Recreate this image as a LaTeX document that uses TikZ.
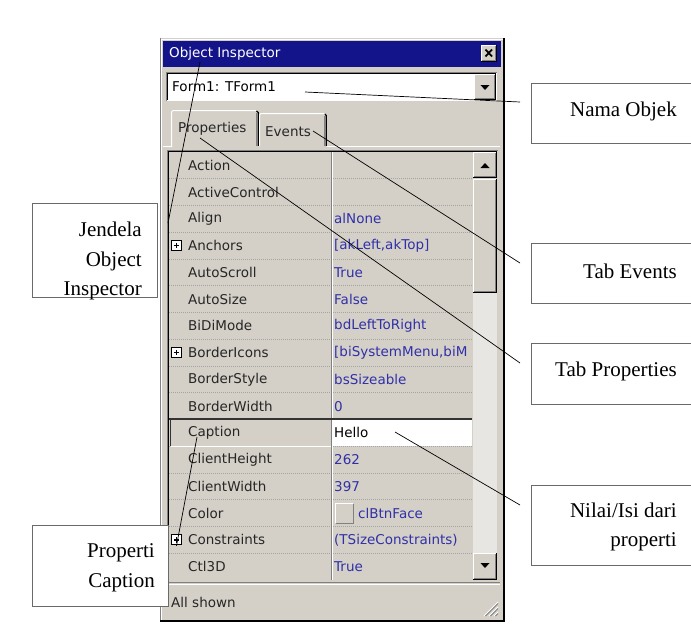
\documentclass[tikz,border=0pt]{standalone}
\usepackage{fontspec}
\setmainfont{Liberation Serif}
\newfontfamily\uifont{DejaVu Sans}
\definecolor{winface}{HTML}{D4D0C8}
\definecolor{titlebar}{HTML}{14148A}
\definecolor{valblue}{HTML}{3030A8}
\definecolor{propname}{HTML}{262626}
\definecolor{gridline}{HTML}{A4A4A4}
\definecolor{boxline}{HTML}{6A6A6A}
\definecolor{darkedge}{HTML}{808080}
\definecolor{track}{HTML}{E8E6E2}
% raised Windows-style button: x1 y1 x2 y2
\newcommand\winbtn[4]{%
  \fill[winface] (#1,#2) rectangle (#3,#4);
  \draw[white, line width=1pt] (#1+0.5,#4-1) -- (#1+0.5,#2+0.5) -- (#3-1,#2+0.5);
  \draw[darkedge, line width=1pt] (#1+1,#4-1.5) -- (#3-1.5,#4-1.5) -- (#3-1.5,#2+1);
  \draw[black, line width=1pt] (#1,#4-0.5) -- (#3-0.5,#4-0.5) -- (#3-0.5,#2);
}
\begin{document}
\begin{tikzpicture}[x=1pt,y=-1pt,
  ui/.style={font=\uifont\fontsize{13.5}{16}\selectfont, inner sep=0pt, anchor=west},
  prop/.style={ui, text=propname},
  val/.style={ui, text=valblue},
  callout/.style={draw=boxline, line width=1pt, fill=white, anchor=north west},
  calltext/.style={font=\fontsize{21}{29.5}\selectfont, align=right, inner sep=0pt, anchor=east},
  pointer/.style={draw=black, line width=0.7pt},
  sep/.style={gridline, line width=0.8pt, dash pattern=on 1pt off 1pt},
]
\useasboundingbox (0,0) rectangle (691,632);
\fill[white] (0,0) rectangle (691,632);
\clip (0,0) rectangle (691,632);

% ---------- window frame ----------
\fill[winface] (160,38) rectangle (504,620);
\draw[white, line width=1pt] (161,620) -- (161,39) -- (503,39);
\draw[darkedge, line width=1.5pt] (160.5,38) -- (160.5,621);
\draw[black, line width=2.2pt] (504,38) -- (504,621) -- (159.5,621);

% title bar
\fill[titlebar] (163,41) rectangle (501,67);
\node[ui, text=white] (title) at (169,54) {Object Inspector};
\winbtn{481}{45}{497}{62}
\draw[black, line width=1.8pt] (485.5,49.5) -- (492,56.5) (492,49.5) -- (485.5,56.5);

% object selector
\fill[white] (166,72) rectangle (497,101);
\draw[darkedge, line width=1pt] (166.5,101) -- (166.5,72.5) -- (497,72.5);
\draw[black, line width=1pt] (167.5,100) -- (167.5,73.5) -- (496,73.5);
\node[ui, text=black] (objname) at (172,87) {Form1: TForm1};
\winbtn{474}{74}{496}{100}
\fill[black] (480.5,85) -- (489.5,85) -- (485,90) -- cycle;

% tabs
\draw[white, line width=1pt] (163,146.5) -- (171,146.5) (258,146.5) -- (500,146.5);
\fill[winface] (259,147) -- (259,115) -- (261,113) -- (324,113) -- (326,115) -- (326,147) -- cycle;
\draw[white, line width=1pt] (259.5,146) -- (259.5,115) -- (261,113.5) -- (324,113.5);
\draw[black, line width=1.2pt] (325,114) -- (326.2,115.5) -- (326.2,146);
\draw[darkedge, line width=1pt] (324.8,116) -- (324.8,146);
\fill[winface] (171,147.5) -- (171,112) -- (173,110) -- (256,110) -- (258,112) -- (258,147.5) -- cycle;
\draw[white, line width=1pt] (171.5,147) -- (171.5,112) -- (173,110.5) -- (256,110.5);
\draw[black, line width=1.2pt] (256.5,111) -- (258.2,112.5) -- (258.2,146);
\draw[darkedge, line width=1pt] (256.8,113) -- (256.8,146);
\node[ui, text=propname] (tabprop) at (178,129) {Properties};
\node[ui, text=propname] (tabevt) at (265,132) {Events};

% ---------- property grid ----------
\draw[darkedge, line width=1pt] (167.5,581) -- (167.5,150.5) -- (498,150.5);
\draw[black, line width=1pt] (168.5,580) -- (168.5,151.5) -- (497,151.5);
\foreach \k in {1,...,15}
  \draw[sep] (169,152+26.75*\k) -- (472,152+26.75*\k);
\draw[darkedge, line width=1pt] (331,152) -- (331,580);
\draw[white, line width=0.8pt] (332.2,152) -- (332.2,580);

% selected row
\fill[white] (332.6,420) rectangle (472,446);
\draw[black!80, line width=1.8pt] (169,419) -- (472,419);
\draw[black!80, line width=1.6pt] (170.5,419) -- (170.5,446);
\draw[white, line width=1pt] (171,446.5) -- (331,446.5);

\foreach \i/\n/\v in {0/Action/{},1/ActiveControl/{},2/Align/alNone,
    3/Anchors/{[akLeft,akTop]},4/AutoScroll/True,5/AutoSize/False,
    6/BiDiMode/bdLeftToRight,7/BorderIcons/{[biSystemMenu,biM},
    8/BorderStyle/bsSizeable,9/BorderWidth/0,11/ClientHeight/262,
    12/ClientWidth/397,14/Constraints/{(TSizeConstraints)},15/Ctl3D/True}{
  \node[prop] (pn\i) at (188,165.4+26.75*\i) {\n};
  \node[val] (pv\i) at (334,165.4+26.75*\i) {\v};
}
\node[prop] (pn10) at (188,432.9) {Caption};
\node[ui, text=black] (pv10) at (334,432.9) {Hello};
\node[prop] (pn13) at (188,513.2) {Color};
\draw[white, line width=1pt] (335,523) -- (335,503) -- (353,503);
\draw[darkedge, line width=1pt] (335.5,523) -- (353,523) -- (353,503.5);
\node[val] (pv13) at (358,513.2) {clBtnFace};

% expand markers
\foreach \i in {3,7,14}{
  \draw[black, fill=white, line width=1pt] (171.5,160.4+26.75*\i) rectangle (181.5,170.4+26.75*\i);
  \draw[black, line width=1.4pt] (173.8,165.4+26.75*\i) -- (179.2,165.4+26.75*\i)
     (176.5,162.7+26.75*\i) -- (176.5,168.1+26.75*\i);
}
\coordinate (plus14) at (176.5,545.9);

% scroll bar
\fill[track] (473,179) rectangle (497,553);
\winbtn{473}{152}{497}{178}
\fill[black] (480.5,168) -- (489.5,168) -- (485,163) -- cycle;
\winbtn{473}{179}{497}{293}
\winbtn{473}{553}{497}{580}
\fill[black] (480.5,563) -- (489.5,563) -- (485,568) -- cycle;

% status bar
\draw[darkedge, line width=1pt] (163,582.5) -- (500,582.5);
\draw[white, line width=1pt] (163,584.5) -- (500,584.5);
\node[prop] (status) at (171,602) {All shown};
\foreach \d in {0,5,10}{
  \draw[white, line width=1pt] (484+\d,616) -- (498,602+\d);
  \draw[darkedge, line width=1pt] (485.5+\d,616) -- (498,603.5+\d);
}

% ---------- callouts ----------
\node[callout, minimum width=200, minimum height=60] (nama) at (531,83) {};
\node[calltext] (namatxt) at (677,111) {Nama Objek};
\node[callout, minimum width=200, minimum height=60] (tabev) at (531,243) {};
\node[calltext] (tabevtxt) at (677,271) {Tab Events};
\node[callout, minimum width=200, minimum height=61] (tabpr) at (531,343) {};
\node[calltext] (tabprtxt) at (677,371) {Tab Properties};
\node[callout, minimum width=200, minimum height=80] (nilai) at (531,485) {};
\node[calltext] (nilaitxt) at (677,527) {Nilai/Isi dari\\ properti};
\node[callout, minimum width=125, minimum height=94] (jendela) at (32,203) {};
\node[calltext] (jendelatxt) at (142,261) {Jendela\\ Object\\ Inspector};
\node[callout, minimum width=136, minimum height=81] (capt) at (32,525) {};
\node[calltext] (capttxt) at (155,568) {Properti\\ Caption};

% pointer ends
\coordinate (objtip) at (305,92);
\coordinate (namaend) at (520,102);
\coordinate (evtip) at (313,131);
\coordinate (evend) at (520,263);
\coordinate (prtip) at (200,138);
\coordinate (prend) at (520,363);
\coordinate (wintip) at (200,62);
\coordinate (winend) at (168,223);
\coordinate (captip) at (197,437);
\coordinate (valtip) at (395,432);
\coordinate (valend) at (520,505);

\draw[pointer] (objtip) -- (namaend);
\draw[pointer] (evtip) -- (evend);
\draw[pointer] (prtip) -- (prend);
\draw[pointer] (wintip) -- (winend);
\draw[pointer] (captip) -- (plus14);
\draw[pointer] (valtip) -- (valend);
\end{tikzpicture}
\end{document}
